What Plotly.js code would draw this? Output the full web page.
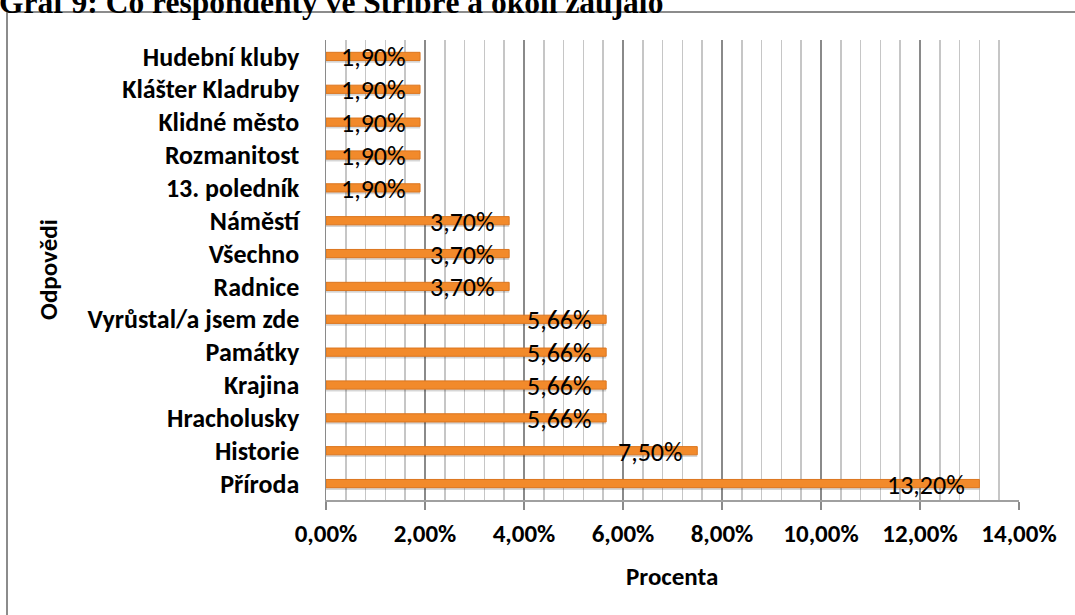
<!DOCTYPE html>
<html><head><meta charset="utf-8">
<script src="https://cdn.plot.ly/plotly-3.0.1.min.js"></script>
<style>html,body{margin:0;padding:0;background:#fff}#chart{width:1075px;height:615px}</style>
</head><body><div id="chart"></div>
<script>
// bottom to top
const categories = ["Příroda","Historie","Hracholusky","Krajina","Památky","Vyrůstal/a jsem zde","Radnice","Všechno","Náměstí","13. poledník","Rozmanitost","Klidné město","Klášter Kladruby","Hudební kluby"];
const values = [0.132,0.075,0.0566,0.0566,0.0566,0.0566,0.037,0.037,0.037,0.019,0.019,0.019,0.019,0.019];
const labels = ["13,20%","7,50%","5,66%","5,66%","5,66%","5,66%","3,70%","3,70%","3,70%","1,90%","1,90%","1,90%","1,90%","1,90%"];
const titleText = "Graf 9: Co respondenty ve Stříbře a okolí zaujalo";
const xTitle = "Procenta";
const yTitle = "Odpovědi";

const L=326,R=1019,T=40,B=500,W=1075,H=615;
const pw=R-L, ph=B-T;
const px=x=>(x-L)/pw, py=y=>(B-y)/ph;
const font='Carlito, Lato, "Open Sans", sans-serif';
const BW=0.25;

const shadow={type:'bar',orientation:'h',y:categories,x:values,width:BW,offset:-BW/2-0.07,
  marker:{color:'rgba(0,0,0,0.16)'},hoverinfo:'skip',showlegend:false};
const bars={type:'bar',orientation:'h',y:categories,x:values,width:BW,offset:-BW/2,
  marker:{color:'#F28A2B',line:{color:'#DC761F',width:1}},showlegend:false};

const ann=categories.map((c,i)=>({x:values[i],y:c,xref:'x',yref:'y',text:labels[i],showarrow:false,
  xanchor:'right',yanchor:'middle',xshift:-12,yshift:-1,font:{family:font,size:26,color:'#000'}}));
ann.push({xref:'paper',yref:'paper',x:px(-3),y:py(2),xanchor:'left',yanchor:'middle',text:'<b>'+titleText+'</b>',
  showarrow:false,font:{family:'"Liberation Serif", "Times New Roman", serif',size:31.5,color:'#000'}});
ann.push({xref:'paper',yref:'paper',x:px(672),y:py(576),xanchor:'center',yanchor:'middle',text:'<b>'+xTitle+'</b>',
  showarrow:false,font:{family:font,size:25,color:'#000'}});
ann.push({xref:'paper',yref:'paper',x:px(48),y:py(270),xanchor:'center',yanchor:'middle',text:'<b>'+yTitle+'</b>',textangle:-90,
  showarrow:false,font:{family:font,size:25,color:'#000'}});

const layout={width:W,height:H,margin:{l:L,r:W-R,t:T,b:H-B},paper_bgcolor:'#fff',plot_bgcolor:'#fff',
  barmode:'overlay',separators:', ',
  xaxis:{range:[0,0.14],dtick:0.02,tick0:0,tickformat:'.2%',showgrid:true,gridcolor:'#8a8a8a',gridwidth:1.5,
    minor:{dtick:0.004,showgrid:true,gridcolor:'#c6c6c6',gridwidth:1.5},
    zeroline:false,showline:true,linecolor:'#a0a0a0',linewidth:1.5,ticks:'outside',ticklen:8,tickcolor:'#8a8a8a',tickwidth:1.5,
    ticklabelstandoff:2,tickfont:{family:font,size:25,color:'#000',weight:'bold'}},
  yaxis:{type:'category',range:[-0.5,13.5],showgrid:false,zeroline:false,showline:true,linecolor:'#8a8a8a',linewidth:1.5,
    ticks:'',ticklabelstandoff:20,tickfont:{family:font,size:26,color:'#000',weight:'bold'}},
  annotations:ann,
  shapes:[{type:'rect',xref:'paper',yref:'paper',x0:px(7),x1:px(1085),y0:py(630),y1:py(12),line:{color:'#8c8c8c',width:2},fillcolor:'rgba(0,0,0,0)',layer:'below'}]
};
Plotly.newPlot('chart',[shadow,bars],layout,{displayModeBar:false,staticPlot:true});
</script></body></html>
